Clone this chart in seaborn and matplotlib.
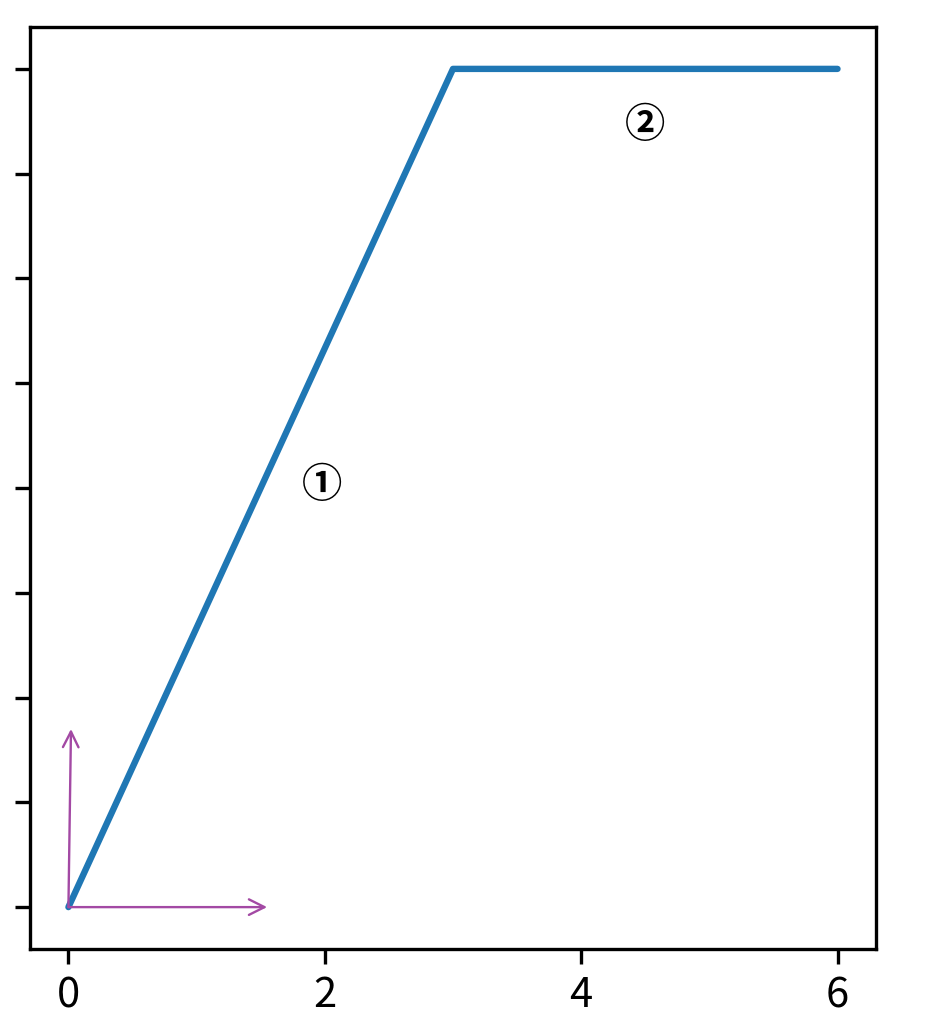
import matplotlib
matplotlib.use("Agg")
import matplotlib.pyplot as plt
import seaborn as sns
import pandas as pd

# data
x_vals = [0, 3, 6]
y_vals = [0, 8, 8]
x_ticks = [0, 2, 4, 6]
y_ticks = [0, 1, 2, 3, 4, 5, 6, 7, 8]
labels = ["①", "②"]
label_x = [1.98, 4.5]
label_y = [4.02, 7.46]
arrow_ends = [(0.02, 1.7), (1.55, 0.0)]

sns.set_style("ticks")
plt.rcParams['font.family'] = ['Noto Sans CJK SC', 'DejaVu Sans']
plt.rcParams.update({"text.color": "black", "xtick.color": "black",
                     "ytick.color": "black", "axes.edgecolor": "black"})

fig = plt.figure(figsize=(9.25, 10.22), dpi=100)
ax = fig.add_axes([0.0324, 0.0714, 0.9146, 0.9022])

df = pd.DataFrame({"x": x_vals, "y": y_vals})
sns.lineplot(data=df, x="x", y="y", ax=ax, color="#1f77b4", linewidth=4.6)

for (ex, ey) in arrow_ends:
    ax.annotate("", xy=(ex, ey), xytext=(0, 0),
                arrowprops=dict(arrowstyle="->", color="#a349a4", lw=1.7,
                                mutation_scale=28, shrinkA=0, shrinkB=0))

for t, tx, ty in zip(labels, label_x, label_y):
    ax.text(tx, ty, t, fontsize=29, ha="center", va="center",
            fontweight="bold", color="black")

ax.set_xticks(x_ticks)
ax.set_yticks(y_ticks)
ax.set_yticklabels([])
ax.set_xlabel("")
ax.set_ylabel("")
ax.tick_params(axis="both", length=11, width=2.4, labelsize=30, pad=8,
               color="black", labelcolor="black")
for s in ax.spines.values():
    s.set_linewidth(2.4)
    s.set_color("black")

fig.savefig("out.png", dpi=100)
